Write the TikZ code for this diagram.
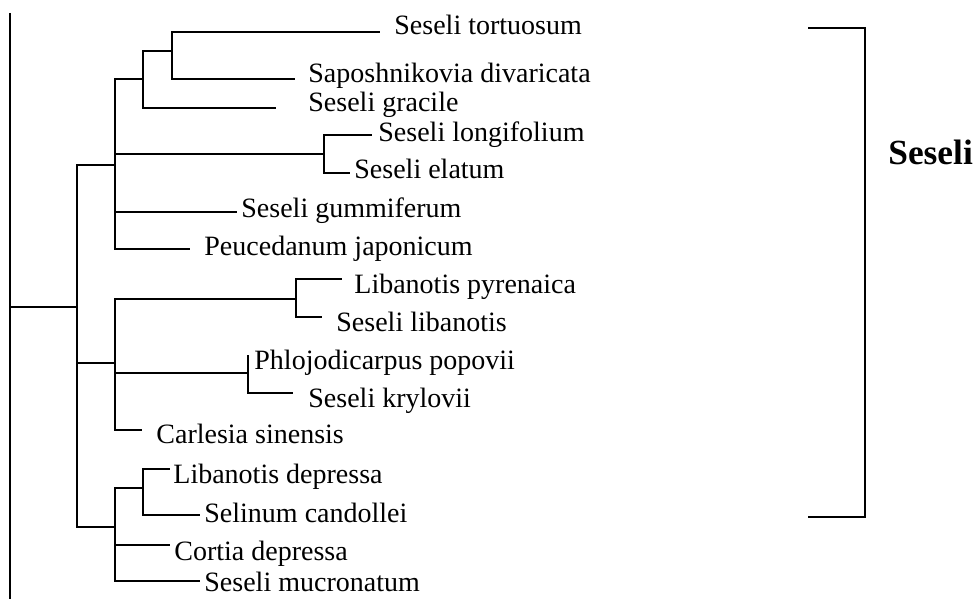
\documentclass[tikz,border=0pt]{standalone}
\usepackage{fontspec}
\setmainfont{Liberation Serif}
\begin{document}
\begin{tikzpicture}[x=0.75pt, y=-0.75pt, line width=2.1pt, line join=miter,
  every node/.style={font=\fontsize{21}{25}\selectfont, inner sep=0pt, anchor=base west},
  clade/.style={font=\fontsize{26.5}{31}\selectfont\bfseries}]
  \useasboundingbox (0,0) rectangle (977,599);
  % inner nodes of the tree
  \coordinate (top) at (10,13); \coordinate (bot) at (10,599); \coordinate (r) at (10,307);
  \coordinate (n1) at (77,307);
  \coordinate (A) at (115,165); \coordinate (A1) at (143,79); \coordinate (A11) at (172,51);
  \coordinate (A2) at (324,154);
  \coordinate (B) at (115,363); \coordinate (B1) at (296,299); \coordinate (B2) at (248,373);
  \coordinate (C) at (115,527); \coordinate (C1) at (143,488);
  % tips of the branches
  \foreach \n/\x/\y in {tor/380/32, sap/295/79, gra/276/108, lon/372/135, ela/350/173,
      gum/237/212, peu/190/249, pyr/342/279, lib/322/317, phl/248/355, kry/293/393,
      car/142/430, dep/170/469, sel/200/515, cor/170/545, muc/200/581}
    \coordinate (\n) at (\x,\y);
  % species
  \node (tor-l) at (393,35) {Seseli tortuosum};
  \node (sap-l) at (307,83) {Saposhnikovia divaricata};
  \node (gra-l) at (307,112) {Seseli gracile};
  \node (lon-l) at (377,142) {Seseli longifolium};
  \node (ela-l) at (353,178) {Seseli elatum};
  \node (gum-l) at (240,217) {Seseli gummiferum};
  \node (peu-l) at (203,255) {Peucedanum japonicum};
  \node (pyr-l) at (353,293) {Libanotis pyrenaica};
  \node (lib-l) at (335,331) {Seseli libanotis};
  \node (phl-l) at (253,369) {Phlojodicarpus popovii};
  \node (kry-l) at (307,407) {Seseli krylovii};
  \node (car-l) at (155,443) {Carlesia sinensis};
  \node (dep-l) at (172,483) {Libanotis depressa};
  \node (sel-l) at (203,522) {Selinum candollei};
  \node (cor-l) at (173,560) {Cortia depressa};
  \node (muc-l) at (203,591) {Seseli mucronatum};
  % branches
  \draw (top) -- (bot); \draw (r) -- (n1);
  \draw (n1) |- (A); \draw (n1) |- (B); \draw (n1) |- (C);
  \draw (A) |- (A1); \draw (A) |- (A2); \draw (A) |- (gum); \draw (A) |- (peu);
  \draw (A1) |- (A11); \draw (A1) |- (gra);
  \draw (A11) |- (tor); \draw (A11) |- (sap);
  \draw (A2) |- (lon); \draw (A2) |- (ela);
  \draw (B) |- (B1); \draw (B) |- (B2); \draw (B) |- (car);
  \draw (B1) |- (pyr); \draw (B1) |- (lib);
  \draw (B2) |- (phl); \draw (B2) |- (kry);
  \draw (C) |- (C1); \draw (C) |- (cor); \draw (C) |- (muc);
  \draw (C1) |- (dep); \draw (C1) |- (sel);
  % genus bracket
  \coordinate (b1) at (808,28); \coordinate (b2) at (808,517);
  \draw (b1) -- ++(57,0) |- (b2);
  \node[clade] (gen) at (887,165) {Seseli};
\end{tikzpicture}
\end{document}
